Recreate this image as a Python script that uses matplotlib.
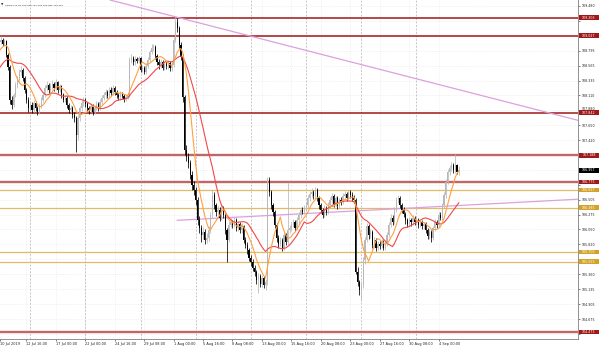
import matplotlib
matplotlib.use("Agg")
import matplotlib.pyplot as plt
from matplotlib.patches import Rectangle
from matplotlib.transforms import blended_transform_factory, ScaledTranslation
import numpy as np
import pandas as pd

symbol = "USDJPY-cd,H4"
last_ohlc = [106.934, 107.026, 106.885, 106.957]

# closes before the visible window (only feed the moving averages)
prior_closes = [108.10, 108.15, 108.12, 108.20, 108.28, 108.25, 108.32, 108.40, 108.36, 108.44,
                108.50, 108.47, 108.55, 108.62, 108.60, 108.68, 108.74, 108.72, 108.80, 108.85]

# H4 bars from 10 Jul 2019, one row = one day
closes = [
    108.88, 108.93, 108.96, 108.90, 108.94, 108.73,
    108.54, 108.04, 107.96, 108.11, 108.27, 108.34,
    108.47, 108.50, 108.38, 108.19, 108.04, 107.91,
    107.96, 107.88, 107.99, 107.91, 107.85, 107.95,
    108.04, 108.11, 108.22, 108.27, 108.19, 108.25,
    108.28, 108.22, 108.31, 108.19, 108.25, 108.11,
    108.04, 108.07, 107.96, 107.88, 107.91, 107.81,
    107.76, 107.50, 107.76, 107.91, 107.99, 108.04,
    107.98, 107.91, 107.88, 107.95, 107.85, 107.91,
    107.98, 107.91, 108.01, 108.07, 108.11, 108.16,
    108.10, 108.19, 108.14, 108.22, 108.16, 108.11,
    108.08, 108.13, 108.10, 108.05, 108.08, 108.11,
    108.65, 108.68, 108.62, 108.67, 108.64, 108.68,
    108.50, 108.53, 108.47, 108.56, 108.65, 108.77,
    108.84, 108.85, 108.71, 108.62, 108.57, 108.62,
    108.53, 108.59, 108.56, 108.60, 108.53, 108.57,
    108.96, 109.23, 109.14, 108.88, 108.70, 108.08,
    107.27, 107.16, 107.07, 106.89, 106.73, 106.66,
    106.50, 106.19, 106.07, 105.96, 106.01, 105.89,
    105.92, 106.04, 106.27, 106.58, 106.42, 106.32,
    106.35, 106.23, 106.38, 106.27, 106.04, 105.89,
    106.12, 106.16, 106.12, 106.19, 106.07, 106.13,
    106.04, 106.10, 105.89, 105.81, 105.73, 105.61,
    105.55, 105.46, 105.40, 105.27, 105.34, 105.21,
    105.30, 105.20, 105.24, 106.81, 106.62, 106.42,
    106.32, 106.12, 105.92, 105.83, 105.89, 105.77,
    105.96, 105.86, 106.04, 106.07, 106.12, 106.16,
    106.07, 106.19, 106.27, 106.35, 106.32, 106.38,
    106.42, 106.53, 106.59, 106.62, 106.56, 106.66,
    106.53, 106.42, 106.35, 106.27, 106.38, 106.32,
    106.42, 106.50, 106.56, 106.44, 106.53, 106.41,
    106.50, 106.47, 106.56, 106.59, 106.53, 106.62,
    106.58, 106.53, 106.50, 105.40, 105.24, 105.12,
    105.20, 105.58, 105.89, 106.10, 105.96, 106.01,
    105.81, 105.89, 105.77, 105.83, 105.80, 105.86,
    105.77, 105.83, 105.96, 106.12, 106.23, 106.16,
    106.35, 106.50, 106.53, 106.42, 106.35, 106.29,
    106.19, 106.13, 106.19, 106.16, 106.23, 106.16,
    106.19, 106.12, 106.16, 106.10, 106.13, 106.04,
    105.95, 106.01, 105.92, 106.07, 106.16, 106.12,
    106.27, 106.23, 106.42, 106.58, 106.78, 106.93,
    106.99, 107.04, 106.96, 107.04, 106.934, 106.957,
]
highs = [
    108.95, 108.98, 109.02, 108.99, 108.98, 108.96,
    108.76, 108.57, 108.10, 108.15, 108.31, 108.40,
    108.52, 108.56, 108.53, 108.41, 108.22, 108.08,
    108.01, 108.00, 108.03, 108.02, 107.95, 107.99,
    108.08, 108.16, 108.27, 108.33, 108.30, 108.30,
    108.34, 108.32, 108.36, 108.33, 108.29, 108.27,
    108.14, 108.12, 108.10, 107.99, 107.96, 107.94,
    107.85, 107.79, 107.80, 107.95, 108.04, 108.09,
    108.07, 108.01, 107.94, 107.99, 107.97, 107.96,
    108.02, 108.01, 108.05, 108.12, 108.16, 108.21,
    108.19, 108.24, 108.23, 108.27, 108.25, 108.19,
    108.14, 108.17, 108.16, 108.13, 108.12, 108.15,
    108.70, 108.74, 108.72, 108.71, 108.70, 108.72,
    108.70, 108.58, 108.56, 108.60, 108.69, 108.81,
    108.89, 108.90, 108.88, 108.74, 108.66, 108.67,
    108.65, 108.64, 108.63, 108.65, 108.63, 108.62,
    109.00, 109.31, 109.29, 109.17, 108.92, 108.74,
    108.12, 107.35, 107.22, 107.12, 106.95, 106.80,
    106.70, 106.55, 106.25, 106.12, 106.08, 106.05,
    105.99, 106.10, 106.32, 106.66, 106.62, 106.46,
    106.41, 106.39, 106.43, 106.41, 106.30, 106.07,
    106.18, 106.22, 106.20, 106.24, 106.22, 106.18,
    106.16, 106.15, 106.12, 105.93, 105.85, 105.76,
    105.65, 105.59, 105.50, 105.43, 105.38, 105.37,
    105.35, 105.33, 105.29, 106.85, 106.86, 106.66,
    106.46, 106.35, 106.15, 105.96, 105.94, 105.92,
    106.01, 105.99, 106.78, 106.12, 106.17, 106.21,
    106.19, 106.24, 106.32, 106.40, 106.39, 106.43,
    106.47, 106.58, 106.64, 106.68, 106.65, 106.70,
    106.69, 106.56, 106.46, 106.38, 106.43, 106.41,
    106.47, 106.55, 106.61, 106.59, 106.57, 106.56,
    106.54, 106.55, 106.61, 106.64, 106.62, 106.66,
    106.66, 106.62, 106.58, 106.54, 105.48, 105.28,
    105.26, 105.63, 105.94, 106.15, 106.13, 106.06,
    106.04, 105.94, 105.92, 105.88, 105.87, 105.90,
    105.89, 105.87, 106.01, 106.17, 106.28, 106.27,
    106.40, 106.55, 106.58, 106.56, 106.46, 106.39,
    106.32, 106.23, 106.24, 106.22, 106.27, 106.26,
    106.24, 106.22, 106.20, 106.19, 106.17, 106.16,
    106.07, 106.06, 106.04, 106.11, 106.21, 106.19,
    106.32, 106.31, 106.46, 106.62, 106.82, 106.98,
    107.04, 107.09, 107.07, 107.21, 107.06, 107.026,
]
lows = [
    108.82, 108.85, 108.90, 108.86, 108.87, 108.69,
    108.50, 107.98, 107.90, 107.93, 108.08, 108.22,
    108.30, 108.42, 108.33, 108.14, 107.99, 107.86,
    107.87, 107.83, 107.85, 107.87, 107.80, 107.82,
    107.92, 108.00, 108.08, 108.18, 108.15, 108.15,
    108.21, 108.18, 108.19, 108.15, 108.16, 108.06,
    108.00, 108.00, 107.92, 107.83, 107.84, 107.76,
    107.70, 107.24, 107.42, 107.72, 107.87, 107.95,
    107.93, 107.87, 107.82, 107.85, 107.80, 107.82,
    107.88, 107.87, 107.88, 107.98, 108.03, 108.07,
    108.06, 108.07, 108.10, 108.11, 108.12, 108.06,
    108.03, 108.04, 108.06, 108.01, 108.02, 108.05,
    108.08, 108.60, 108.58, 108.58, 108.60, 108.61,
    108.46, 108.46, 108.43, 108.44, 108.53, 108.62,
    108.74, 108.79, 108.67, 108.58, 108.52, 108.53,
    108.49, 108.50, 108.52, 108.52, 108.48, 108.48,
    108.54, 108.92, 109.08, 108.84, 108.65, 108.00,
    107.20, 107.10, 107.00, 106.82, 106.66, 106.58,
    106.42, 106.12, 106.00, 105.86, 105.90, 105.83,
    105.84, 105.88, 106.00, 106.22, 106.36, 106.26,
    106.27, 106.18, 106.20, 106.22, 105.98, 105.55,
    105.85, 106.08, 106.07, 106.09, 106.03, 106.03,
    105.99, 106.00, 105.84, 105.76, 105.68, 105.56,
    105.49, 105.41, 105.34, 105.21, 105.07, 105.16,
    105.17, 105.15, 105.12, 105.20, 106.57, 106.37,
    106.26, 106.07, 105.86, 105.77, 105.79, 105.72,
    105.74, 105.81, 105.83, 106.00, 106.03, 106.08,
    106.03, 106.04, 106.15, 106.23, 106.28, 106.28,
    106.34, 106.38, 106.49, 106.55, 106.51, 106.52,
    106.49, 106.37, 106.30, 106.22, 106.24, 106.27,
    106.29, 106.38, 106.46, 106.40, 106.41, 106.37,
    106.37, 106.43, 106.44, 106.52, 106.49, 106.50,
    106.54, 106.49, 106.45, 105.36, 105.18, 105.05,
    104.97, 105.15, 105.52, 105.85, 105.91, 105.92,
    105.76, 105.77, 105.72, 105.73, 105.75, 105.76,
    105.73, 105.73, 105.80, 105.93, 106.08, 106.12,
    106.13, 106.31, 106.45, 106.38, 106.30, 106.24,
    106.14, 106.08, 106.09, 106.11, 106.12, 106.12,
    106.12, 106.07, 106.08, 106.05, 106.06, 105.99,
    105.90, 105.91, 105.86, 105.89, 106.03, 106.07,
    106.09, 106.19, 106.20, 106.38, 106.54, 106.74,
    106.89, 106.95, 106.91, 106.92, 106.90, 106.885,
]

# time axis labels (bar index, text)
time_ticks = [1.7, 16, 32, 48, 64, 80, 96, 112, 128, 144, 160, 176, 192, 208, 224, 240]
time_labels = ["10 Jul 2019", "12 Jul 16:00", "17 Jul 00:00", "22 Jul 00:00", "24 Jul 16:00",
               "29 Jul 08:00", "1 Aug 00:00", "5 Aug 16:00", "8 Aug 08:00", "13 Aug 00:00",
               "15 Aug 16:00", "20 Aug 08:00", "23 Aug 00:00", "27 Aug 16:00", "30 Aug 08:00",
               "4 Sep 00:00"]
week_starts = [18, 48, 78, 108, 138, 168, 198, 228]

price_ticks = [109.480, 109.250, 109.025, 108.795, 108.565, 108.335, 108.110, 107.880,
               107.650, 107.420, 107.190, 106.960, 106.735, 106.505, 106.275, 106.050,
               105.820, 105.590, 105.360, 105.135, 104.905, 104.675, 104.445]
# these grid prices sit under a price tag, so their text is not shown
hidden_ticks = [109.250, 109.025, 107.190, 106.960, 106.735, 105.590, 104.445]

dark_levels = [109.303, 109.027, 107.842]
light_levels = [107.188, 106.775, 104.473]
gold_levels = [106.657, 106.385, 105.705, 105.555]

# trend lines: (bar index, price) anchors
trend_down = [(96.7, 109.316), (315.8, 107.725)]
trend_up = [(98.0, 106.19), (330.0, 106.535)]

n = len(closes)
idx = np.arange(n)
c = np.array(closes)
o = np.r_[prior_closes[-1], c[:-1]]
h = np.array(highs)
l = np.array(lows)

allc = pd.Series(prior_closes + closes)
x_all = np.arange(-len(prior_closes), n)
ma_fast = allc.rolling(8).mean()
ma_slow = allc.rolling(21).mean()

fig = plt.figure(figsize=(6, 3.5), dpi=100)
ax = fig.add_axes([0, 11 / 350, 578 / 600, 339 / 350])
ax.set_xlim(1.63, 315.8)
ax.set_ylim(104.368, 109.572)

# grid
for v in price_ticks:
    ax.axhline(v, color="#e2e2e2", lw=0.5, ls=(0, (1, 2)), zorder=0)
for t in time_ticks[1:]:
    ax.axvline(t, color="#e2e2e2", lw=0.5, ls=(0, (1, 2)), zorder=0)
for t in week_starts:
    ax.axvline(t, color="#b4b4b4", lw=0.5, ls=(0, (3, 2)), zorder=0)

# levels
for v in dark_levels:
    ax.axhline(v, color="#a01818", lw=1.1, zorder=1)
for v in light_levels:
    ax.axhline(v, color="#c06868", lw=1.7, zorder=1)
for v in gold_levels:
    ax.axhline(v, color="#e3bb68", lw=0.9, zorder=1)

ax.axline(trend_down[0], trend_down[1], color="#dda0dd", lw=0.9, zorder=1)
ax.plot([p[0] for p in trend_up], [p[1] for p in trend_up], color="#dda0dd", lw=0.9, zorder=1)

# candles
up = c >= o
col = np.where(up, "#b8b8b8", "#000000")
ax.vlines(idx, l, h, colors=col, lw=0.55, zorder=3)
body = np.maximum(np.abs(c - o), 0.012)
ax.bar(idx, body, bottom=np.minimum(o, c), width=0.62, color=col, lw=0, zorder=3)

ax.plot(x_all, ma_slow, color="#f04848", lw=0.8, zorder=4)
ax.plot(x_all, ma_fast, color="#ffa040", lw=0.8, zorder=4)

# axes look
for s in ["top", "left"]:
    ax.spines[s].set_visible(False)
ax.spines["right"].set_color("#808080")
ax.spines["bottom"].set_color("#808080")
ax.spines["right"].set_linewidth(0.6)
ax.spines["bottom"].set_linewidth(0.6)

ax.yaxis.tick_right()
ax.set_yticks(price_ticks)
ax.set_yticklabels(["" if v in hidden_ticks else f"{v:.3f}" for v in price_ticks])
ax.tick_params(axis="y", labelsize=2.3, length=1.5, width=0.4, pad=0.8, colors="#202020")
for lab in ax.get_yticklabels():
    if lab.get_text() == "107.880":
        lab.set_transform(lab.get_transform() + ScaledTranslation(0, 1.5 / 100, fig.dpi_scale_trans))
ax.set_xticks(time_ticks)
ax.set_xticklabels(time_labels)
ax.tick_params(axis="x", labelsize=2.5, length=1.5, width=0.4, pad=1.0, colors="#202020")
for lab in ax.get_xticklabels():
    lab.set_horizontalalignment("left")

# price tags on the right
tr = blended_transform_factory(ax.transAxes, ax.transData)
tag_h = 0.034
tags = [(v, "#a01818") for v in dark_levels + light_levels] + \
       [(v, "#d4a22a") for v in gold_levels] + [(last_ohlc[3], "#000000")]
for v, fc in tags:
    ax.add_patch(Rectangle((1.002, v - tag_h), 0.034, 2 * tag_h, transform=tr,
                           facecolor=fc, edgecolor="none", clip_on=False, zorder=10))
    ax.text(1.019, v, f"{v:.3f}", transform=tr, ha="center", va="center",
            fontsize=2.3, color="white", clip_on=False, zorder=11)

# header
fig.text(1 / 600, 1 - 5 / 350, "\u25bc", fontsize=2.2, color="#303030", va="center")
fig.text(5 / 600, 1 - 5 / 350,
         f"{symbol} " + " ".join(f"{v:.3f}" for v in last_ohlc),
         fontsize=1.7, color="#202020", va="center")

fig.savefig("out.png", dpi=100, facecolor="white")
